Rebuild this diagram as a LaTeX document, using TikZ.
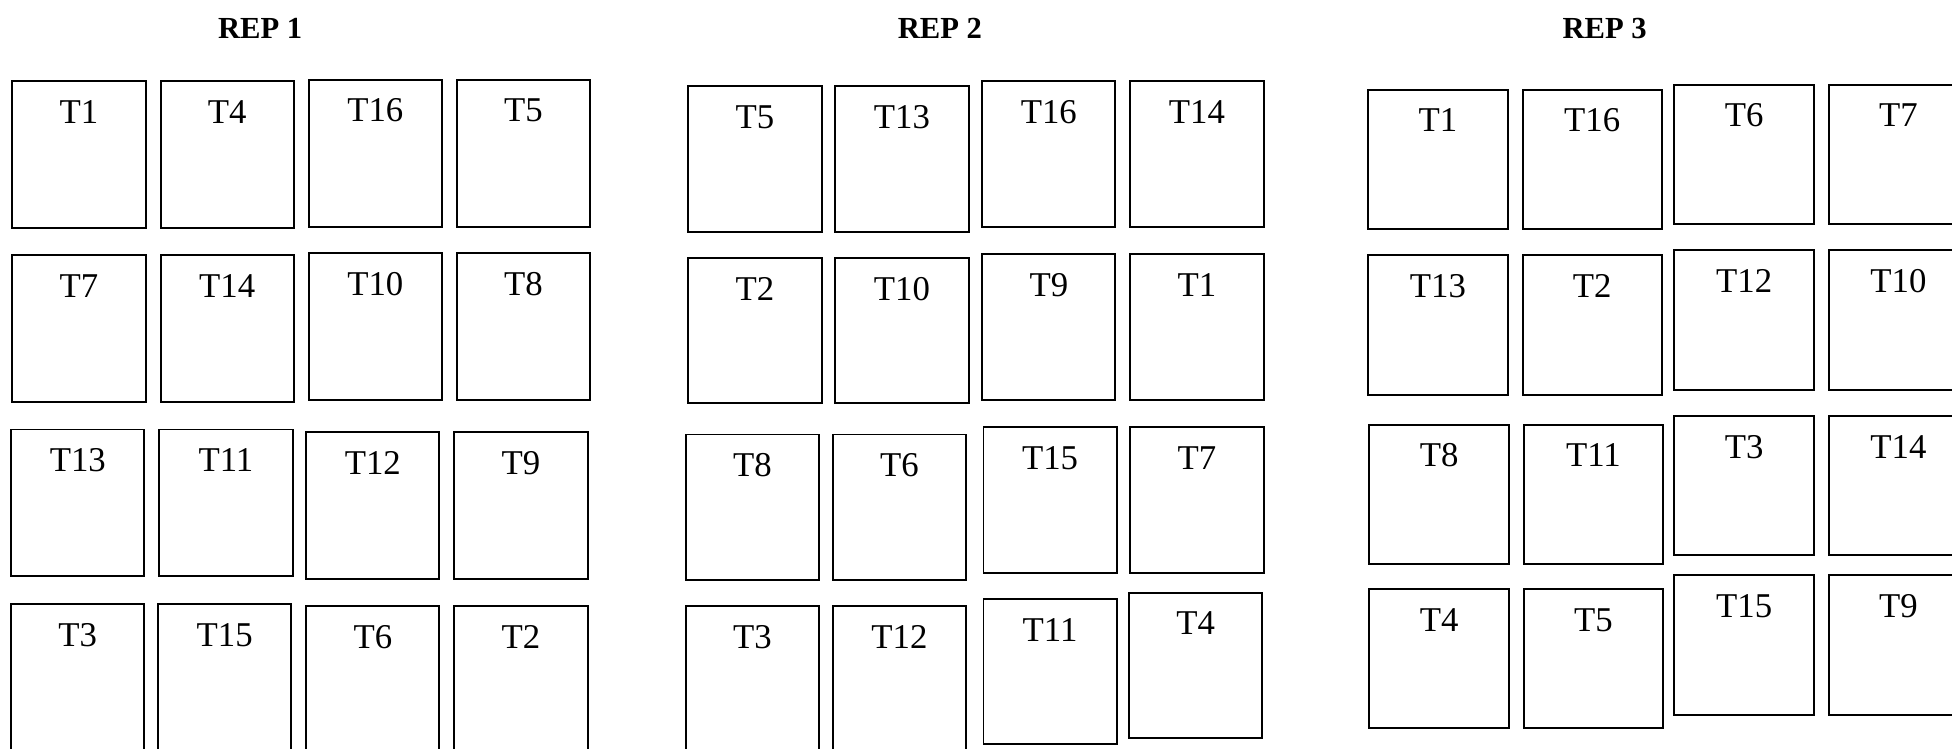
\documentclass[tikz,border=0pt]{standalone}
\usepackage{fontspec}
\setmainfont{Liberation Serif}
\usepackage{tikz}
\usetikzlibrary{positioning,calc}

\begin{document}
\begin{tikzpicture}[
  x=0.02cm, y=-0.02cm,
  plotbox/.style={rectangle, draw, line width=0.9pt, inner sep=0pt},
  plotA/.style={plotbox, minimum width=2.14cm, minimum height=2.36cm},
  plotB/.style={plotbox, minimum width=2.14cm, minimum height=2.34cm},
  plotC/.style={plotbox, minimum width=2.24cm, minimum height=2.24cm},
  tag/.style={font=\fontsize{15.9}{18}\selectfont, anchor=base, inner sep=0pt},
  rep/.style={font=\fontsize{14}{16}\selectfont\bfseries, anchor=base, inner sep=0pt}
]
  \useasboundingbox (0,0) rectangle (1568,601);
  \clip (0,0) rectangle (1568,601);

  \node[rep] (rep1) at (209,31)  {REP 1};
  \node[rep] (rep2) at (755,31)  {REP 2};
  \node[rep] (rep3) at (1289,31) {REP 3};

  % rep 1
  \foreach \x/\y/\t in {10/65/1, 129/65/4, 248/64/16, 367/64/5,
                        10/205/7, 129/205/14, 248/203/10, 367/203/8,
                        9/345/13, 128/345/11, 246/347/12, 365/347/9,
                        9/485/3, 127/485/15, 246/487/6, 365/487/2} {
    \node[plotA] (a\t) at (\x+53.5,\y+59) {};
    \node[tag] (la\t) at (\x+53.5,\y+34) {T\t};
  }

  % rep 2
  \foreach \x/\y/\t in {553/69/5, 671/69/13, 789/65/16, 908/65/14,
                        553/207/2, 671/207/10, 789/204/9, 908/204/1,
                        551/349/8, 669/349/6, 790/343/15, 908/343/7,
                        551/487/3, 669/487/12, 790/481/11, 907/476/4} {
    \node[plotB] (b\t) at (\x+53.5,\y+58.5) {};
    \node[tag] (lb\t) at (\x+53.5,\y+34) {T\t};
  }

  % rep 3
  \foreach \x/\y/\t in {1099/72/1, 1223/72/16, 1345/68/6, 1469/68/7,
                        1099/205/13, 1223/205/2, 1345/201/12, 1469/201/10,
                        1100/341/8, 1224/341/11, 1345/334/3, 1469/334/14,
                        1100/473/4, 1224/473/5, 1345/462/15, 1469/462/9} {
    \node[plotC] (c\t) at (\x+56,\y+56) {};
    \node[tag] (lc\t) at (\x+56,\y+34) {T\t};
  }
\end{tikzpicture}
\end{document}
